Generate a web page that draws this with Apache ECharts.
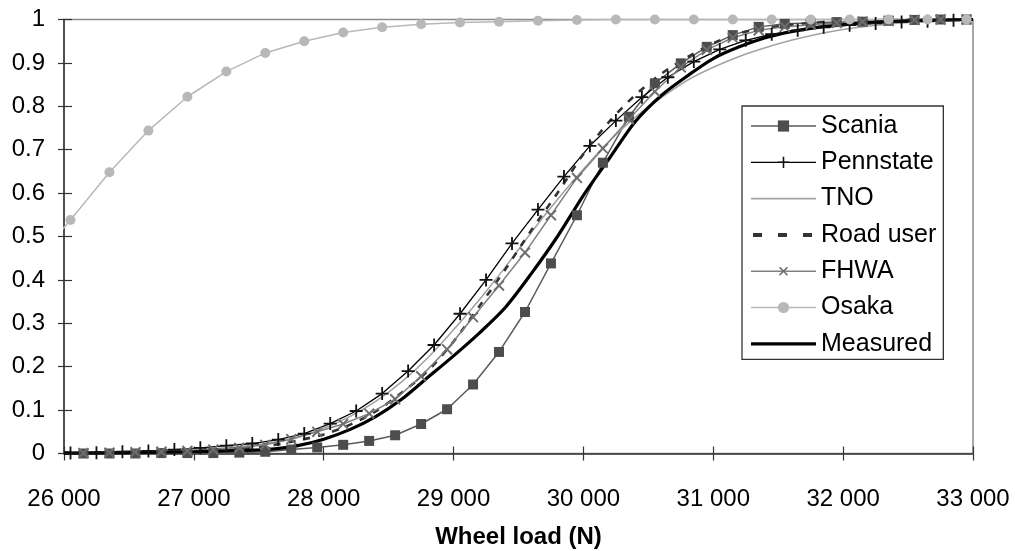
<!DOCTYPE html>
<html><head><meta charset="utf-8">
<script src="https://cdn.jsdelivr.net/npm/echarts@6/dist/echarts.min.js"></script>
<style>html,body{margin:0;padding:0;background:#fff}#c{width:1015px;height:551px}</style>
</head><body><div id="c"></div>
<script>
const seriesNames = ['Scania','Pennstate','TNO','Road user','FHWA','Osaka','Measured'];
const xTickValues = [26000,27000,28000,29000,30000,31000,32000,33000];
const yTickValues = [0,0.1,0.2,0.3,0.4,0.5,0.6,0.7,0.8,0.9,1];

const scania = [[26150,0],[26350,0],[26550,0],[26750,0.001],[26950,0.001],[27150,0.001],[27350,0.002],[27550,0.004],[27750,0.009],[27950,0.014],[28150,0.02],[28350,0.029],[28550,0.042],[28750,0.068],[28950,0.102],[29150,0.159],[29350,0.234],[29550,0.326],[29750,0.438],[29950,0.549],[30150,0.670],[30350,0.776],[30550,0.853],[30750,0.899],[30950,0.937],[31150,0.964],[31350,0.983],[31550,0.99],[31750,0.992],[31950,0.994],[32150,0.995],[32350,0.997],[32550,0.999],[32750,1],[32950,1]];
const pennstate = [[26050,0.001],[26250,0.002],[26450,0.004],[26650,0.006],[26850,0.009],[27050,0.013],[27250,0.018],[27450,0.023],[27650,0.032],[27850,0.046],[28050,0.069],[28250,0.098],[28450,0.138],[28650,0.19],[28850,0.25],[29050,0.322],[29250,0.40],[29450,0.484],[29650,0.562],[29850,0.638],[30050,0.709],[30250,0.767],[30450,0.821],[30650,0.867],[30850,0.903],[31050,0.931],[31250,0.952],[31450,0.966],[31650,0.975],[31850,0.982],[32050,0.987],[32250,0.991],[32450,0.994],[32650,0.996],[32850,0.998]];
const tno = [[26000,0.002],[26400,0.004],[26800,0.007],[27200,0.012],[27400,0.017],[27600,0.025],[27800,0.038],[28000,0.058],[28200,0.085],[28400,0.12],[28600,0.165],[28800,0.22],[29000,0.285],[29200,0.355],[29400,0.43],[29600,0.51],[29800,0.585],[30000,0.655],[30200,0.72],[30400,0.775],[30600,0.82],[30800,0.86],[31000,0.89],[31200,0.915],[31400,0.935],[31600,0.952],[31800,0.966],[32000,0.977],[32200,0.985],[32400,0.991],[32600,0.995],[32800,0.998],[33000,1]];
const roadUser = [[26000,0.002],[26400,0.003],[26800,0.005],[27200,0.009],[27400,0.013],[27600,0.019],[27800,0.03],[28000,0.044],[28200,0.066],[28400,0.097],[28600,0.14],[28800,0.19],[29000,0.258],[29200,0.34],[29400,0.425],[29600,0.515],[29800,0.60],[30000,0.69],[30200,0.765],[30400,0.826],[30600,0.875],[30800,0.913],[31000,0.945],[31200,0.968],[31400,0.98],[31600,0.988],[31800,0.993],[32000,0.996],[32200,0.998],[32400,0.999],[32600,1],[32800,1],[33000,1]];
const fhwa = [[26150,0.001],[26350,0.002],[26550,0.003],[26750,0.004],[26950,0.006],[27150,0.009],[27350,0.013],[27550,0.02],[27750,0.033],[27950,0.05],[28150,0.068],[28350,0.092],[28550,0.125],[28750,0.178],[28950,0.24],[29150,0.314],[29350,0.387],[29550,0.463],[29750,0.549],[29950,0.635],[30150,0.703],[30350,0.77],[30550,0.834],[30750,0.89],[30950,0.93],[31150,0.958],[31350,0.975],[31550,0.983],[31750,0.988],[31950,0.992],[32150,0.995],[32350,0.997],[32550,0.999],[32750,1],[32950,1]];
const osaka = [[25950,0.503],[26050,0.538],[26350,0.648],[26650,0.744],[26950,0.822],[27250,0.880],[27550,0.923],[27850,0.950],[28150,0.970],[28450,0.982],[28750,0.989],[29050,0.993],[29350,0.995],[29650,0.997],[29950,0.999],[30250,1],[30550,1],[30850,1],[31150,1],[31450,1],[31750,1],[32050,1],[32350,1],[32650,1],[32950,1]];
const measured = [[26000,0.001],[26500,0.002],[27000,0.004],[27400,0.007],[27600,0.010],[27800,0.018],[28000,0.033],[28200,0.055],[28400,0.085],[28600,0.125],[28800,0.175],[29000,0.225],[29200,0.278],[29400,0.337],[29600,0.415],[29800,0.50],[30000,0.595],[30200,0.68],[30400,0.765],[30600,0.825],[30800,0.87],[31000,0.91],[31200,0.937],[31400,0.958],[31600,0.972],[31800,0.982],[32000,0.988],[32200,0.993],[32400,0.996],[32600,0.998],[32800,0.999],[33000,1]];

const FONT = 'Liberation Sans, Arial, sans-serif';
const plusPath = 'path://M0.43,0H0.57V0.43H1V0.57H0.57V1H0.43V0.57H0V0.43H0.43Z';
const fmtX = v => String(v).replace(/\B(?=(\d{3})+(?!\d))/g, ' ');
const fmtY = v => String(+v.toFixed(1));
const noMarker = ['TNO','Road user','Measured'];

const legendItems = seriesNames.map(n => {
  const it = {name:n};
  if (noMarker.includes(n)) it.itemStyle = {opacity:0};
  if (n === 'Road user') it.lineStyle = {width:4, type:[9,16], dashOffset:-2};
  return it;
});

const chart = echarts.init(document.getElementById('c'), null, {renderer:'canvas'});
const base = {min:26000, max:33000, interval:1000};
chart.setOption({
  animation:false,
  backgroundColor:'#fff',
  grid:{left:64, right:42, top:19.5, bottom:97.5, show:true, borderColor:'#8a8a8a', borderWidth:1.5,
        containLabel:false, outerBoundsMode:'none'},
  legend:{
    orient:'vertical', left:742, top:106,
    data:legendItems,
    itemWidth:65, itemHeight:14, itemGap:11.3,
    padding:[7.5,7,3,7],
    lineStyle:{width:'inherit'},
    backgroundColor:'#fff', borderColor:'#333', borderWidth:1.3, borderRadius:0,
    textStyle:{fontFamily:FONT, fontSize:25, color:'#000', lineHeight:25},
    selectedMode:false
  },
  xAxis:[
    Object.assign({type:'value', position:'bottom',
      name:'Wheel load (N)', nameLocation:'middle', nameGap:72,
      nameTextStyle:{fontFamily:FONT, fontSize:24, fontWeight:'bold', color:'#000'},
      axisLine:{show:true, onZero:false, lineStyle:{color:'#333', width:1.5}},
      axisTick:{show:true, length:7, lineStyle:{color:'#333', width:1.2}},
      axisLabel:{fontFamily:FONT, fontSize:24, color:'#000', margin:34, formatter:fmtX},
      splitLine:{show:false}}, base),
    Object.assign({type:'value', position:'bottom',
      axisLine:{show:false, onZero:false},
      axisTick:{show:true, inside:true, length:7, lineStyle:{color:'#333', width:1.2}},
      axisLabel:{show:false}, splitLine:{show:false}}, base)
  ],
  yAxis:[
    {type:'value', min:0, max:1, interval:0.1,
      axisLine:{show:true, onZero:false, lineStyle:{color:'#333', width:1.5}},
      axisTick:{show:true, length:6, lineStyle:{color:'#333', width:1.2}},
      axisLabel:{fontFamily:FONT, fontSize:24, color:'#000', margin:19, formatter:fmtY},
      splitLine:{show:false}},
    {type:'value', min:0, max:1, interval:0.1, position:'left',
      axisLine:{show:false, onZero:false},
      axisTick:{show:true, inside:true, length:8, lineStyle:{color:'#333', width:1.2}},
      axisLabel:{show:false}, splitLine:{show:false}}
  ],
  series:[
    {name:'Scania', type:'line', data:scania, symbol:'rect', symbolSize:10,
      lineStyle:{color:'#5a5a5a', width:1.5}, itemStyle:{color:'#4d4d4d'}},
    {name:'Pennstate', type:'line', data:pennstate, symbol:plusPath, symbolSize:13,
      lineStyle:{color:'#000', width:1.3}, itemStyle:{color:'#111'}},
    {name:'TNO', type:'line', data:tno, symbol:'none', smooth:0.3,
      lineStyle:{color:'#a3a3a3', width:1.6}, itemStyle:{color:'#a3a3a3'}},
    {name:'Road user', type:'line', data:roadUser, symbol:'none', smooth:0.3,
      lineStyle:{color:'#333', width:2.6, type:[7,8]}, itemStyle:{color:'#333'}},
    {name:'FHWA', type:'line', data:fhwa, symbol:plusPath, symbolRotate:45, symbolSize:14,
      lineStyle:{color:'#808080', width:1.5}, itemStyle:{color:'#6e6e6e'}},
    {name:'Osaka', type:'line', data:osaka.map((p,i)=> i===0 ? {value:p, symbol:'none'} : p),
      symbol:'circle', symbolSize:10,
      lineStyle:{color:'#b8b8b8', width:1.5}, itemStyle:{color:'#b8b8b8'}},
    {name:'Measured', type:'line', data:measured, symbol:'none', smooth:0.3,
      lineStyle:{color:'#000', width:3.2}, itemStyle:{color:'#000'}}
  ]
});
</script></body></html>
